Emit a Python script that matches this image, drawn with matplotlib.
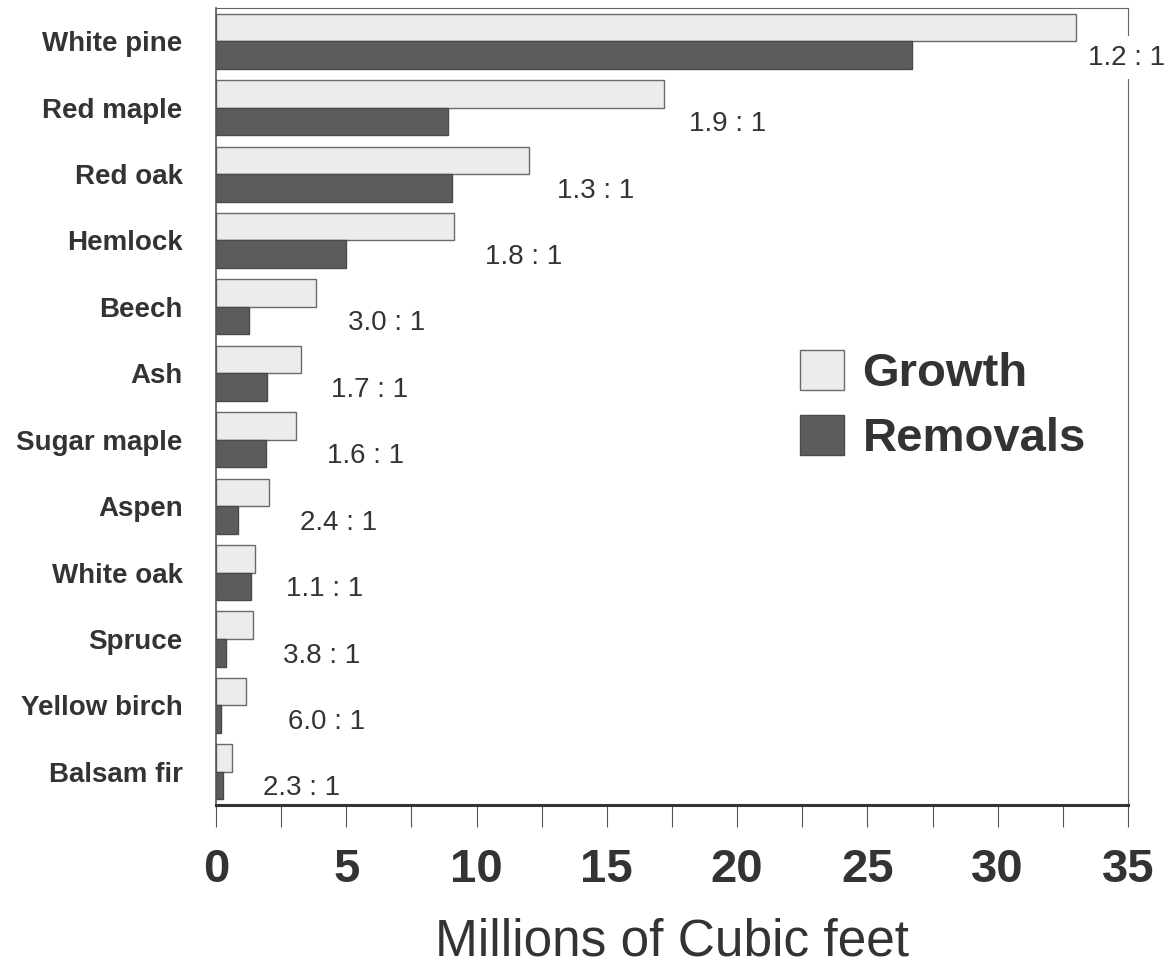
import numpy as np
import matplotlib.pyplot as plt
from matplotlib.ticker import MultipleLocator
from matplotlib.patches import Patch

plt.rcParams['font.family'] = ['Liberation Sans', 'DejaVu Sans']

species = ['White pine', 'Red maple', 'Red oak', 'Hemlock', 'Beech', 'Ash',
           'Sugar maple', 'Aspen', 'White oak', 'Spruce', 'Yellow birch', 'Balsam fir']
growth = [33.0, 17.2, 12.0, 9.15, 3.83, 3.25, 3.09, 2.05, 1.51, 1.41, 1.14, 0.63]
removals = [26.7, 8.9, 9.05, 5.0, 1.28, 1.94, 1.93, 0.86, 1.34, 0.37, 0.19, 0.27]
ratios = ['1.2 : 1', '1.9 : 1', '1.3 : 1', '1.8 : 1', '3.0 : 1', '1.7 : 1',
          '1.6 : 1', '2.4 : 1', '1.1 : 1', '3.8 : 1', '6.0 : 1', '2.3 : 1']
# gap (pixels) between end of growth bar and the ratio text
label_pad = [12, 25, 28, 31, 32, 30, 31, 31, 31, 30, 42, 31]

txt = '#333333'
fig = plt.figure(figsize=(11.73, 9.68), dpi=100)
ax = fig.add_axes([0.1841, 0.1684, 0.7775, 0.8233])

y = np.arange(len(species))
h = 0.415
ax.barh(y - h / 2, growth, height=h, color='#ececec', edgecolor='#6a6a6a', linewidth=1.0, label='Growth')
ax.barh(y + h / 2, removals, height=h, color='#5c5c5c', edgecolor='#4a4a4a', linewidth=1.0, label='Removals')

for i, (g, r) in enumerate(zip(growth, ratios)):
    t = ax.annotate(r, xy=(g, i + h / 2), xytext=(label_pad[i] * 0.72, -2), textcoords='offset points',
                    ha='left', va='center', fontsize=20, color=txt, annotation_clip=False, zorder=5)
    if i == 0:
        t.set_bbox(dict(facecolor='white', edgecolor='none', pad=6))

ax.set_xlim(0, 35)
ax.set_ylim(len(species) - 0.5, -0.5)
ax.set_yticks(y)
ax.set_yticklabels(species, fontsize=20, fontweight='bold', color=txt)
ax.tick_params(axis='y', length=0, pad=24)

ax.xaxis.set_major_locator(MultipleLocator(5))
ax.xaxis.set_minor_locator(MultipleLocator(2.5))
ax.tick_params(axis='x', which='both', direction='out', length=16, width=0.8, color='#555555')
ax.tick_params(axis='x', which='major', pad=15, labelsize=34, labelcolor=txt)
for lab in ax.get_xticklabels():
    lab.set_fontweight('bold')
ax.set_xlabel('Millions of Cubic feet', fontsize=37, color=txt, labelpad=18)

for s in ['top', 'right']:
    ax.spines[s].set_linewidth(0.8)
    ax.spines[s].set_color('#666666')
ax.spines['left'].set_linewidth(1.2)
ax.spines['left'].set_color('#555555')
ax.spines['bottom'].set_linewidth(2.2)
ax.spines['bottom'].set_color('#333333')

handles = [Patch(facecolor='#ececec', edgecolor='#6a6a6a', linewidth=1.0),
           Patch(facecolor='#5c5c5c', edgecolor='#4a4a4a', linewidth=1.0)]
leg = ax.legend(handles, ['Growth', 'Removals'], loc='upper left', bbox_to_anchor=(0.64, 0.571),
                frameon=False, prop={'size': 34, 'weight': 'bold'}, handlelength=0.93,
                handleheight=0.92, handletextpad=0.4, labelspacing=0.4, borderpad=0, borderaxespad=0)
for t in leg.get_texts():
    t.set_color(txt)

fig.savefig('out.png', dpi=100, facecolor='white')
